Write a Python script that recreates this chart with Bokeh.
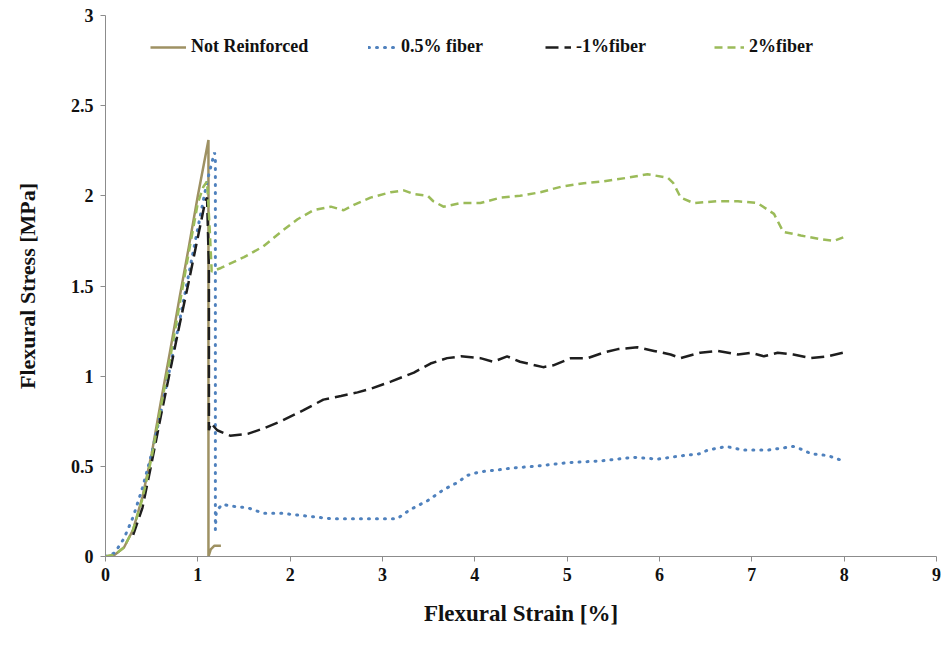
from bokeh.plotting import figure
from bokeh.models import Legend, LegendItem, Title, FixedTicker, Range1d
from bokeh.embed import file_html
from bokeh.resources import INLINE

# ---- data (strain %, stress MPa) ----
nr_x = [0, 0.1, 0.2, 0.3, 0.4, 0.5, 0.6, 0.7, 0.8, 0.9, 1.0, 1.115, 1.115, 1.14, 1.18, 1.25]
nr_y = [0, 0.01, 0.05, 0.15, 0.33, 0.57, 0.86, 1.14, 1.43, 1.71, 2.0, 2.31, 0.0, 0.04, 0.06, 0.06]

f05_x = [0, 0.1, 0.2, 0.3, 0.4, 0.5, 0.6, 0.7, 0.8, 0.9, 1.0, 1.1, 1.18, 1.19, 1.19, 1.2, 1.23, 1.27,
         1.35, 1.54, 1.71, 1.9, 2.08, 2.25, 2.44, 2.62, 2.8, 2.98, 3.16, 3.3, 3.49, 3.66, 3.81, 3.92,
         4.06, 4.25, 4.39, 4.64, 5.0, 5.36, 5.72, 5.98, 6.26, 6.44, 6.52, 6.72, 6.91, 7.17, 7.45,
         7.56, 7.64, 7.82, 7.99]
f05_y = [0, 0.02, 0.1, 0.22, 0.38, 0.57, 0.8, 1.05, 1.3, 1.56, 1.82, 2.08, 2.24, 2.22, 0.15, 0.25, 0.27, 0.29,
         0.28, 0.27, 0.24, 0.24, 0.23, 0.22, 0.21, 0.21, 0.21, 0.21, 0.21, 0.26, 0.31, 0.37, 0.41, 0.45,
         0.47, 0.48, 0.49, 0.5, 0.52, 0.53, 0.55, 0.54, 0.56, 0.57, 0.59, 0.61, 0.59, 0.59, 0.61,
         0.59, 0.57, 0.56, 0.53]

f1_x = [0.3, 0.4, 0.5, 0.6, 0.7, 0.8, 0.9, 1.0, 1.08, 1.1, 1.12, 1.12, 1.14, 1.21, 1.35, 1.54, 1.71,
        1.9, 2.14, 2.36, 2.55, 2.73, 2.87, 3.09, 3.34, 3.52, 3.7, 3.85, 4.06, 4.2, 4.35, 4.49, 4.74,
        4.85, 5.04, 5.22, 5.39, 5.55, 5.76, 5.94, 6.12, 6.23, 6.44, 6.63, 6.85, 6.99, 7.13, 7.28,
        7.45, 7.64, 7.82, 7.99]
f1_y = [0.12, 0.27, 0.52, 0.78, 1.03, 1.28, 1.52, 1.77, 1.97, 1.99, 1.6, 0.7, 0.74, 0.7, 0.67, 0.68, 0.71,
        0.75, 0.81, 0.87, 0.89, 0.91, 0.93, 0.97, 1.02, 1.07, 1.1, 1.11, 1.1, 1.08, 1.11, 1.08, 1.05,
        1.06, 1.1, 1.1, 1.13, 1.15, 1.16, 1.14, 1.12, 1.1, 1.13, 1.14, 1.12, 1.13, 1.11, 1.13,
        1.12, 1.1, 1.11, 1.13]

f2_x = [0, 0.1, 0.2, 0.3, 0.4, 0.5, 0.6, 0.7, 0.8, 0.9, 1.0, 1.06, 1.1, 1.13, 1.15, 1.25, 1.5, 1.71,
        1.9, 2.08, 2.25, 2.44, 2.58, 2.69, 2.87, 3.09, 3.23, 3.34, 3.49, 3.55, 3.66, 3.85, 4.06,
        4.28, 4.49, 4.71, 4.93, 5.18, 5.39, 5.65, 5.87, 6.09, 6.15, 6.23, 6.37, 6.63, 6.85, 7.06,
        7.24, 7.34, 7.53, 7.74, 7.89, 7.99]
f2_y = [0, 0.01, 0.05, 0.15, 0.32, 0.55, 0.83, 1.1, 1.39, 1.68, 1.96, 2.05, 2.08, 1.8, 1.58, 1.6, 1.66, 1.72,
        1.8, 1.87, 1.92, 1.94, 1.92, 1.95, 1.99, 2.02, 2.03, 2.01, 2.0, 1.97, 1.94, 1.96, 1.96,
        1.99, 2.0, 2.02, 2.05, 2.07, 2.08, 2.1, 2.12, 2.1, 2.07, 1.99, 1.96, 1.97, 1.97, 1.96,
        1.9, 1.8, 1.78, 1.76, 1.75, 1.77]

x_ticks = [0, 1, 2, 3, 4, 5, 6, 7, 8, 9]
y_ticks = [0, 0.5, 1, 1.5, 2, 2.5, 3]
y_tick_labels = {0: "0", 0.5: "0.5", 1: "1", 1.5: "1.5", 2: "2", 2.5: "2.5", 3: "3"}

C_NR = "#9E9163"
C_05 = "#4F81BD"
C_1 = "#1E1E1E"
C_2 = "#9BBB59"
FONT = "Liberation Serif"

p = figure(width=944, height=649, output_backend="svg", toolbar_location=None,
           x_range=Range1d(0, 9), y_range=Range1d(0, 3),
           min_border_left=105, min_border_top=15, min_border_right=8, min_border_bottom=93)
p.outline_line_color = None
p.xgrid.visible = False
p.ygrid.visible = False

r_nr = p.line(nr_x, nr_y, line_color=C_NR, line_width=2.5)
r_05 = p.line(f05_x, f05_y, line_color=C_05, line_width=3, line_dash="1 7", line_cap="round")
r_1 = p.line(f1_x, f1_y, line_color=C_1, line_width=2.5, line_dash="13 6")
r_2 = p.line(f2_x, f2_y, line_color=C_2, line_width=2.5, line_dash="8 5")

for ax in (p.xaxis, p.yaxis):
    ax.axis_line_color = "#8C8C8C"
    ax.major_tick_line_color = "#8C8C8C"
    ax.minor_tick_line_color = None
    ax.major_tick_in = 0
    ax.major_tick_out = 5
    ax.major_label_text_font = FONT
    ax.major_label_text_font_style = "bold"
    ax.major_label_text_font_size = "18px"
    ax.major_label_text_color = "#111111"

p.xaxis.ticker = FixedTicker(ticks=x_ticks)
p.yaxis.ticker = FixedTicker(ticks=y_ticks)
p.yaxis.major_label_overrides = y_tick_labels
p.xaxis.major_label_standoff = 6
p.yaxis.major_label_standoff = 7

p.yaxis.axis_label = "Flexural Stress [MPa]"
p.yaxis.axis_label_text_font = FONT
p.yaxis.axis_label_text_font_style = "bold"
p.yaxis.axis_label_text_font_size = "22px"
p.yaxis.axis_label_text_color = "#111111"
p.yaxis.axis_label_standoff = 28

xt = Title(text="Flexural Strain [%]", align="center", offset=-47, standoff=30,
           text_font=FONT, text_font_style="bold", text_font_size="23px", text_color="#111111")
p.add_layout(xt, "below")

def mk_leg(label, rend, x, gw):
    return Legend(items=[LegendItem(label=label, renderers=[rend])], location=(x, 499),
                  orientation="horizontal", border_line_alpha=0, background_fill_alpha=0,
                  padding=0, margin=0, glyph_width=gw, label_standoff=5,
                  label_text_font=FONT, label_text_font_style="bold",
                  label_text_font_size="18px", label_text_color="#111111")

p.add_layout(mk_leg("Not Reinforced", r_nr, 45, 36))
p.add_layout(mk_leg("0.5% fiber", r_05, 263, 28))
p.add_layout(mk_leg("-1%fiber", r_1, 440, 26))
p.add_layout(mk_leg("2%fiber", r_2, 609, 30))

open("out.html", "w").write(file_html(p, INLINE))
